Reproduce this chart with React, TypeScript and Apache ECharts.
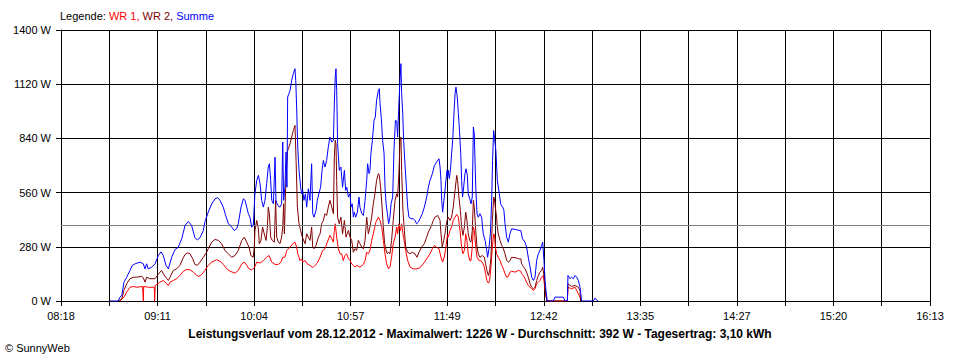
import React, { useEffect, useRef } from "react";
import * as echarts from "echarts";

// ---- data (time in minutes since midnight, power in W) ----
const START = 8 * 60 + 18; // 08:18
const SPAN = 475; // 08:18 .. 16:13
const X_UNITS_PER_MIN = 18;
const X_STEP = SPAN; // 18 grid steps => one step = SPAN / 18 minutes
const xTickLabels = ["08:18", "09:11", "10:04", "10:57", "11:49", "12:42", "13:35", "14:27", "15:20", "16:13"];
const Y_MAX = 1400;
const Y_STEP = 280;
const AVERAGE = 392;
const seriesNames = ["WR 1", "WR 2", "Summe"];
const seriesColors = ["#ff0000", "#800000", "#0000ff"];
const bottomTitle = "Leistungsverlauf vom 28.12.2012 - Maximalwert: 1226 W - Durchschnitt: 392 W - Tagesertrag: 3,10 kWh";
const copyright = "© SunnyWeb";

const wr1: [number, number][] = [
  [530.2,0],[532.4,20],[533.9,46],[535.7,71],[537.5,75],[539.4,71],[542.6,75],[542.8,75],[543.0,0],[543.2,75],[545.7,71],[549.0,71],[549.2,0],[549.5,80],[552.1,97],[553.9,106],[555.8,89],[556.7,80],[557.6,97],[559.4,106],[561.2,115],[563.0,132],[564.9,154],[566.7,163],[568.5,161],[570.3,149],[572.2,132],[573.4,127],[574.9,137],[576.7,158],[577.6,172],
  [578.5,184],[580.4,201],[583.1,213],[584.9,206],[586.7,189],[588.6,166],[590.4,154],[593.1,144],[594.9,158],[596.8,192],[598.2,201],[599.5,184],[600.8,166],[602.2,161],[603.7,172],[605.0,201],[606.8,196],[608.6,209],[610.4,226],[611.7,235],[613.2,201],[615.0,189],[616.8,189],[618.2,201],[619.2,226],[620.4,226],[621.4,261],[623.2,278],[625.0,299],[625.9,304],[626.8,278],[627.4,244],[628.1,226],[628.6,209],[629.5,218],
  [630.1,201],[631.4,209],[632.6,192],[634.1,184],[635.6,172],[636.8,184],[638.1,196],[639.6,226],[641.0,261],[642.3,270],[643.6,304],[645.0,339],[646.0,322],[646.9,304],[647.4,364],[647.9,399],[648.7,330],[649.6,270],[650.5,244],[651.4,244],[652.3,209],[653.2,235],[654.1,244],[655.1,218],[656.0,209],[656.9,192],[657.8,184],[658.7,175],[659.6,184],[661.4,175],[663.3,189],[664.2,209],[665.1,252],[666.0,244],[666.9,261],[667.8,313],[668.7,347],[670.1,407],[671.5,433],[672.4,416],[673.3,382],[674.2,313],[675.1,244],[676.0,192],[677.0,166],[677.8,175],[678.7,226],[679.6,296],[680.6,330],
  [681.5,382],[682.0,347],[682.7,399],[683.5,364],[684.2,399],[684.9,347],[685.7,304],[686.4,261],[687.5,209],[688.8,175],[690.6,166],[692.4,166],[694.2,172],[696.0,192],[697.9,218],[699.7,244],[701.0,270],[702.1,287],[703.3,278],[704.6,270],[705.7,226],[706.6,201],[707.5,226],[708.4,278],[709.2,339],[709.7,330],[710.6,364],[711.5,382],[712.4,416],[713.4,433],[714.3,447],[715.2,433],[716.1,364],[717.0,278],[717.7,244],[718.5,261],[719.2,347],[719.9,313],[720.6,244],[721.4,209],[722.1,209],[722.8,278],[723.4,382],[723.9,364],[724.7,278],[725.4,226],[726.5,209],[727.5,209],[728.7,192],[729.4,175],[730.1,141],[730.8,106],[731.6,92],[732.3,106],[733.0,175],[733.8,278],[734.5,347],[735.0,340],
  [735.4,278],[736.1,244],[737.0,226],[738.0,209],[738.9,184],[739.8,166],[740.7,141],[741.6,123],[742.5,127],[743.4,149],[744.3,154],[746.2,149],[748.0,158],[749.3,154],[749.8,141],[750.7,132],[751.6,115],[752.5,97],[753.4,80],[754.4,71],[755.3,63],[756.2,54],[757.1,63],[758.0,89],[758.9,97],[759.8,106],[760.7,123],[761.6,132],[762.2,89],[762.9,37],[763.5,0],[774.8,0],[775.1,71],[777.1,63],[779.0,71],[780.8,37],[781.7,20],[782.6,0],
];

const wr2: [number, number][] = [
  [529.3,0],[531.2,10],[532.4,55],[533.9,89],[535.7,115],[537.5,123],[539.4,123],[542.1,127],[543.0,120],[543.9,97],[544.8,123],[546.6,115],[549.4,115],[550.7,132],[552.1,149],[553.0,158],[553.9,141],[555.8,115],[556.7,106],[557.6,123],[559.4,158],[561.2,166],[563.0,184],[564.5,218],[565.8,240],[567.1,249],[568.5,244],[570.0,218],[571.2,189],[572.5,184],[574.0,201],[575.8,226],[577.6,252],
  [578.5,270],[580.4,304],[582.2,318],[584.0,313],[585.8,296],[587.6,261],[589.5,244],[591.3,226],[593.1,235],[594.9,261],[596.8,313],[598.2,330],[599.5,304],[600.8,278],[601.8,235],[603.1,226],[603.7,287],[604.0,364],[605.0,416],[605.9,373],[606.4,296],[607.3,313],[608.2,382],[609.1,347],[610.1,313],[610.8,382],[611.3,485],[611.9,451],[612.6,330],[613.5,313],[614.6,304],[615.3,520],[615.9,330],[616.8,304],[617.7,296],[618.6,330],[619.2,382],[619.7,502],[620.1,347],[620.8,588],[621.4,709],[621.9,778],[622.6,795],[623.2,813],[624.1,847],[625.0,881],[625.9,907],[626.5,726],[627.2,485],[628.1,399],[629.0,364],[629.9,330],
  [631.4,296],[632.3,347],[633.2,330],[634.1,313],[635.0,382],[635.6,278],[636.3,270],[637.4,287],[638.7,330],[639.6,347],[640.5,399],[641.4,416],[642.3,451],[643.2,442],[644.1,485],[645.0,520],[646.0,485],[646.9,451],[647.4,743],[647.9,830],[648.3,813],[648.7,623],[649.2,433],[650.1,399],[651.0,433],[651.9,347],[652.9,416],[653.8,330],[655.1,364],[656.0,330],[656.9,313],[657.8,252],[658.7,270],[659.6,261],[660.5,313],[661.4,296],[662.4,278],[663.3,270],[664.2,313],[665.1,433],[666.0,347],[666.9,382],[667.8,433],[668.7,502],[669.6,554],[670.5,623],[671.5,658],[672.0,649],[672.7,588],[673.5,485],[674.2,382],[674.9,296],[675.7,261],[676.4,244],[677.1,252],[677.8,244],[678.7,313],[679.6,416],[680.6,520],
  [681.5,554],[682.0,537],[682.7,658],[683.3,830],[683.8,847],[684.2,675],[684.9,468],[685.7,364],[686.4,278],[687.5,252],[688.8,244],[690.0,252],[691.5,244],[692.6,226],[693.7,252],[695.1,278],[696.6,296],[697.9,330],[698.8,356],[700.2,382],[701.5,416],[702.4,433],[703.9,442],[705.2,416],[705.7,347],[706.4,278],[707.2,313],[707.9,347],[708.4,382],[709.0,416],[709.7,433],[710.6,416],[711.5,433],[712.4,485],[713.4,571],[714.3,649],[714.8,623],[715.5,537],[716.3,468],[717.0,382],[717.7,339],[718.5,382],[719.2,459],[719.9,416],[720.6,347],[721.4,313],[722.1,304],[722.8,364],[723.4,520],[723.9,485],[724.7,364],[725.4,278],[726.1,244],[727.0,226],[728.3,235],[729.4,226],[730.1,192],[730.8,158],[731.6,132],[732.3,158],[733.0,226],[733.8,416],[734.5,537],[734.9,528],
  [735.4,485],[736.1,433],[736.5,382],[737.0,347],[738.0,313],[738.9,287],[739.8,270],[740.7,244],[741.6,209],[742.5,201],[743.4,209],[744.3,226],[746.7,223],[748.0,218],[749.3,218],[749.8,192],[750.7,178],[751.6,166],[752.5,149],[753.4,123],[754.4,89],[755.3,71],[756.2,63],[757.1,71],[758.0,106],[758.9,132],[759.8,149],[760.7,158],[761.3,175],[762.0,132],[762.6,71],[763.5,0],[774.8,0],[775.1,89],[777.1,75],[779.0,80],[780.8,71],[781.7,54],[782.0,0],
];

const summe: [number, number][] = [
  [524.8,0],[529.3,0],[530.2,20],[531.2,28],[532.4,97],[533.9,123],[535.7,158],[537.0,184],[538.5,192],[541.2,201],[543.0,192],[543.9,166],[544.8,192],[545.7,166],[547.6,175],[549.4,192],[551.2,235],[552.7,254],[553.9,235],[555.4,184],[556.7,166],[558.5,226],[560.3,265],[562.1,278],[564.0,322],[565.8,390],[567.6,411],[569.4,390],[571.2,327],[572.5,316],[574.0,327],[575.8,364],[576.7,410],
  [578.5,459],[580.4,502],[582.2,528],[583.6,534],[584.9,520],[586.7,485],[588.0,442],[589.5,399],[591.3,382],[592.7,364],[594.0,373],[594.9,399],[596.4,485],[597.7,528],[598.6,520],[599.5,485],[600.4,451],[601.3,433],[602.2,382],[603.1,390],[604.0,554],[605.0,623],[605.9,649],[606.8,606],[607.7,520],[608.6,485],[609.5,520],[610.4,606],[611.3,692],[611.9,709],[612.6,623],[613.2,520],[614.1,502],[615.0,743],[615.5,520],[616.4,494],[617.7,485],[618.6,502],[619.2,821],[619.7,520],[620.4,588],[621.0,769],[621.5,588],[621.9,1054],[622.6,1071],[623.2,1088],[624.1,1140],[625.0,1175],[625.9,1200],[626.3,1140],[626.8,1002],[627.4,795],[628.1,675],[629.0,588],[629.5,554],
  [630.1,571],[630.8,520],[631.6,554],[632.3,485],[633.2,580],[634.1,520],[635.0,709],[635.6,451],[636.3,433],[637.4,468],[638.1,520],[639.2,563],[639.9,588],[640.7,675],[641.4,726],[642.3,692],[643.2,726],[644.1,795],[645.0,847],[646.0,821],[646.9,830],[647.4,1019],[647.9,1157],[648.3,1200],[648.7,1088],[649.2,813],[650.1,675],[651.0,692],[651.9,588],[652.9,675],[653.6,571],[654.2,588],[655.1,537],[656.0,554],[656.5,485],[657.2,502],[657.8,433],[658.3,459],[659.1,433],[660.0,459],[660.9,537],[661.4,485],[662.4,451],[663.3,442],[664.2,520],[665.1,623],[665.6,709],[666.4,658],[666.9,675],[667.4,761],[668.2,830],[669.1,933],[669.8,950],[670.5,1037],[671.5,1088],[672.0,1097],[672.4,1019],[673.1,942],[673.8,830],[674.6,761],[675.1,588],[675.7,502],[676.4,451],[677.1,399],[677.8,433],[678.4,502],[679.3,537],[680.0,778],[680.8,933],[681.5,930],
  [682.0,847],[682.7,1019],[683.3,1140],[683.8,1226],[684.2,1071],[684.8,968],[685.3,830],[686.0,709],[686.8,588],[687.5,485],[688.2,433],[689.3,425],[690.6,425],[691.5,416],[692.4,399],[693.3,407],[694.2,425],[695.5,451],[696.6,485],[697.9,537],[698.8,588],[699.7,623],[701.0,658],[702.1,700],[703.3,718],[704.6,735],[705.2,692],[705.7,623],[706.1,520],[706.6,459],[707.3,520],[707.9,571],[708.4,623],[709.0,675],[709.4,640],[709.7,675],[710.3,632],[711.0,692],[711.5,761],[712.1,830],[712.8,968],[713.4,1071],[713.9,1105],[714.6,1054],[715.2,968],[715.7,899],[716.5,761],[717.0,623],[717.5,537],[718.1,588],[718.8,658],[719.4,683],[720.1,649],[720.6,554],[721.4,528],[722.1,502],[722.8,537],[723.4,899],[723.9,864],[724.7,588],[725.4,451],[726.1,433],[727.0,451],[727.9,433],[728.8,347],[729.8,313],[730.7,261],[731.2,226],[731.9,270],[732.7,347],[733.4,520],[733.9,726],[734.5,881],[735.0,838],
  [735.7,778],[736.5,623],[737.6,554],[738.3,502],[739.4,485],[740.1,468],[740.7,399],[741.6,330],[742.5,304],[743.4,347],[744.3,373],[747.1,368],[749.4,363],[750.2,322],[751.6,304],[752.5,278],[753.4,226],[754.4,175],[755.3,123],[756.2,106],[757.1,123],[758.0,209],[758.9,244],[759.8,261],[760.7,287],[761.3,304],[762.0,209],[762.6,106],[763.1,54],[763.8,0],[767.1,0],[768.0,20],[772.6,20],[773.5,0],[774.8,0],[775.1,132],[776.2,115],[777.1,123],[778.0,115],[779.0,132],[779.9,123],[780.8,106],[781.7,71],[782.6,0],[789.0,0],[789.9,15],[790.8,5],[791.7,0],
];

const FONT = '"Liberation Sans", Arial, sans-serif';

export default function App() {
  const ref = useRef<HTMLDivElement>(null);

  useEffect(() => {
    if (!ref.current) return;
    const chart = echarts.init(ref.current, null, { renderer: "svg" });
    const toXY = (d: [number, number][]) => d.map(([m, w]) => [(m - START) * X_UNITS_PER_MIN, w]);
    const allData = [wr1, wr2, summe];

    chart.setOption({
      animation: false,
      backgroundColor: "#ffffff",
      title: [
        {
          left: 60,
          top: 10,
          padding: 0,
          text: `{k|Legende: }{a|${seriesNames[0]}, }{b|${seriesNames[1]}, }{c|${seriesNames[2]}}`,
          textStyle: {
            fontSize: 11,
            fontFamily: FONT,
            fontWeight: "normal",
            rich: {
              k: { color: "#000000", fontSize: 11, fontFamily: FONT },
              a: { color: seriesColors[0], fontSize: 11, fontFamily: FONT },
              b: { color: seriesColors[1], fontSize: 11, fontFamily: FONT },
              c: { color: seriesColors[2], fontSize: 11, fontFamily: FONT },
            },
          },
        },
        {
          left: "center",
          top: 328,
          padding: 0,
          text: bottomTitle,
          textStyle: { fontSize: 12, fontFamily: FONT, fontWeight: "bold", color: "#000000" },
        },
        {
          left: 5,
          top: 342,
          padding: 0,
          text: copyright,
          textStyle: { fontSize: 11, fontFamily: FONT, fontWeight: "normal", color: "#000000" },
        },
      ],
      grid: { left: 61, right: 30, top: 30, bottom: 59, containLabel: false },
      xAxis: {
        type: "value",
        min: 0,
        max: SPAN * X_UNITS_PER_MIN,
        interval: X_STEP,
        axisLine: { show: true, lineStyle: { color: "#000000", width: 1 } },
        axisTick: { show: true, length: 5, lineStyle: { color: "#000000", width: 1 } },
        axisLabel: {
          show: true,
          margin: 9,
          color: "#000000",
          fontSize: 11,
          fontFamily: FONT,
          showMinLabel: true,
          showMaxLabel: true,
          formatter: (v: number) => {
            const i = Math.round(v / X_STEP);
            return i % 2 === 0 ? xTickLabels[i / 2] ?? "" : "";
          },
        },
        splitLine: { show: true, lineStyle: { color: "#000000", width: 1 } },
      },
      yAxis: {
        type: "value",
        min: 0,
        max: Y_MAX,
        interval: Y_STEP,
        axisLine: { show: true, lineStyle: { color: "#000000", width: 1 } },
        axisTick: { show: true, length: 5, lineStyle: { color: "#000000", width: 1 } },
        axisLabel: {
          margin: 10,
          color: "#000000",
          fontSize: 11,
          fontFamily: FONT,
          formatter: (v: number) => `${v} W`,
        },
        splitLine: { show: true, lineStyle: { color: "#000000", width: 1 } },
      },
      series: allData.map((d, i) => ({
        name: seriesNames[i],
        type: "line",
        data: toXY(d),
        showSymbol: false,
        symbol: "none",
        silent: true,
        lineStyle: { color: seriesColors[i], width: 1 },
        itemStyle: { color: seriesColors[i] },
        emphasis: { disabled: true },
        z: 3 + i,
        markLine:
          i === 0
            ? {
                silent: true,
                symbol: ["none", "none"],
                label: { show: false },
                lineStyle: { color: "#808080", type: "solid", width: 1 },
                data: [{ yAxis: AVERAGE }],
              }
            : undefined,
      })),
    });

    return () => chart.dispose();
  }, []);

  return (
    <div
      ref={ref}
      style={{ position: "fixed", left: 0, top: 0, width: 960, height: 360, background: "#fff" }}
    />
  );
}
